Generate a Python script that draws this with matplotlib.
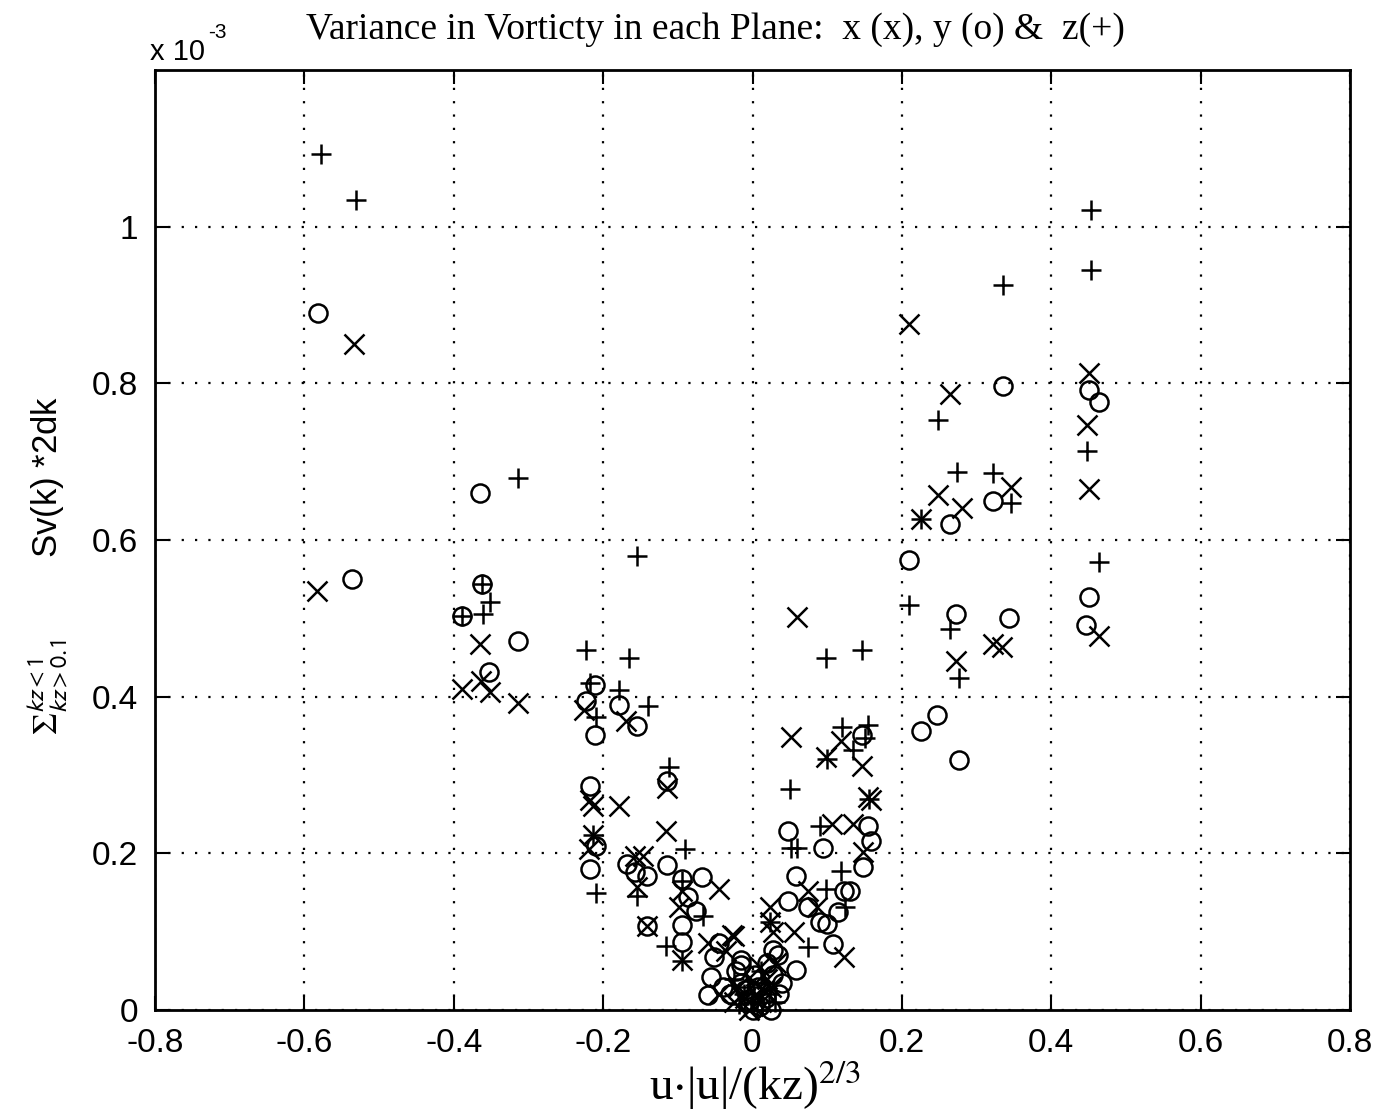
# encoding=utf-8
import matplotlib
matplotlib.use('Agg')
import matplotlib.pyplot as plt

# values (y in units of 1e-3)
x_plane_u = [-0.534, -0.583, -0.365, -0.389, -0.364, -0.352, -0.314, -0.226, -0.170, -0.114,
             -0.217, -0.213, -0.179, -0.116, -0.214, -0.219, -0.157, -0.146, -0.154, -0.141,
             -0.094, -0.094, -0.099, -0.045, -0.027, -0.025, 0.051, 0.118, 0.098, 0.147,
             0.155, 0.158, 0.107, 0.134, 0.148, 0.024, 0.024, 0.074, 0.087, 0.122,
             0.027, 0.055, 0.060, 0.210, 0.265, 0.249, 0.226, 0.280, 0.346, 0.322,
             0.334, 0.273, 0.464, 0.451, 0.448, 0.451,
             -0.020, -0.010, 0.000, 0.005, 0.012, 0.020, -0.005, 0.010, 0.025, -0.025,
             0.003, 0.015, -0.035, 0.032, -0.060, -0.045]
x_plane_v = [0.850, 0.535, 0.467, 0.410, 0.420, 0.406, 0.392, 0.383, 0.369, 0.283,
             0.268, 0.261, 0.261, 0.229, 0.223, 0.206, 0.197, 0.197, 0.157, 0.107,
             0.064, 0.152, 0.132, 0.154, 0.096, 0.094, 0.348, 0.343, 0.323, 0.311,
             0.272, 0.268, 0.238, 0.238, 0.202, 0.132, 0.112, 0.152, 0.132, 0.068,
             0.100, 0.099, 0.502, 0.876, 0.787, 0.658, 0.627, 0.641, 0.668, 0.467,
             0.463, 0.446, 0.478, 0.813, 0.747, 0.665,
             0.030, 0.015, 0.005, 0.020, 0.010, 0.040, 0.000, 0.055, 0.030, 0.010,
             0.035, 0.025, 0.075, 0.060, 0.085, 0.020]

y_plane_u = [-0.582, -0.536, -0.365, -0.362, -0.389, -0.314, -0.353, -0.211, -0.223, -0.211,
             -0.179, -0.155, -0.114, -0.218, -0.210, -0.218, -0.168, -0.157, -0.141, -0.141,
             -0.114, -0.094, -0.087, -0.076, -0.094, -0.094, -0.067, -0.045, -0.052, -0.016,
             -0.056, -0.059, -0.016, 0.048, 0.058, 0.074, 0.091, 0.100, 0.115, 0.122,
             0.131, 0.048, 0.095, 0.155, 0.158, 0.148, 0.147, 0.108, 0.058, 0.027,
             0.034, 0.209, 0.264, 0.322, 0.273, 0.344, 0.226, 0.247, 0.276, 0.336,
             0.451, 0.464, 0.450, 0.447,
             -0.030, -0.015, -0.005, 0.000, 0.008, 0.018, 0.028, 0.020, -0.022, 0.035,
             0.010, -0.010, 0.003, 0.040, -0.040, 0.025]
y_plane_v = [0.890, 0.550, 0.660, 0.544, 0.503, 0.471, 0.432, 0.415, 0.395, 0.351,
             0.390, 0.363, 0.292, 0.286, 0.210, 0.180, 0.186, 0.176, 0.171, 0.107,
             0.185, 0.167, 0.144, 0.126, 0.109, 0.087, 0.170, 0.086, 0.068, 0.064,
             0.042, 0.019, 0.058, 0.139, 0.171, 0.131, 0.112, 0.110, 0.125, 0.152,
             0.152, 0.228, 0.207, 0.235, 0.216, 0.182, 0.351, 0.084, 0.051, 0.077,
             0.070, 0.575, 0.620, 0.650, 0.506, 0.500, 0.356, 0.376, 0.319, 0.797,
             0.791, 0.776, 0.527, 0.491,
             0.020, 0.035, 0.010, 0.000, 0.030, 0.015, 0.045, 0.060, 0.050, 0.020,
             0.005, 0.025, 0.045, 0.035, 0.030, 0.000]

z_plane_u = [-0.578, -0.531, -0.314, -0.154, -0.362, -0.352, -0.389, -0.361, -0.223, -0.166,
             -0.218, -0.179, -0.210, -0.140, -0.112, -0.214, -0.209, -0.154, -0.090, -0.116,
             -0.094, -0.094, -0.066, 0.050, 0.120, 0.155, 0.151, 0.134, 0.100, 0.156,
             0.051, 0.060, 0.091, 0.098, 0.124, 0.118, 0.074, 0.099, 0.147, 0.226,
             0.274, 0.322, 0.346, 0.209, 0.264, 0.277, 0.249, 0.336, 0.453, 0.453,
             0.448, 0.464, 0.024,
             -0.025, -0.012, 0.000, 0.006, 0.015, 0.022, -0.006, 0.012, 0.030, -0.018]
z_plane_v = [1.093, 1.034, 0.679, 0.579, 0.544, 0.521, 0.503, 0.506, 0.460, 0.449,
             0.417, 0.408, 0.374, 0.388, 0.310, 0.223, 0.150, 0.145, 0.206, 0.082,
             0.062, 0.165, 0.120, 0.282, 0.361, 0.364, 0.347, 0.332, 0.320, 0.270,
             0.207, 0.207, 0.235, 0.154, 0.131, 0.177, 0.080, 0.450, 0.459, 0.627,
             0.687, 0.686, 0.647, 0.517, 0.486, 0.424, 0.753, 0.925, 1.021, 0.945,
             0.713, 0.572, 0.112,
             0.040, 0.020, 0.010, 0.000, 0.035, 0.020, 0.030, 0.050, 0.010, 0.008]

xticks = [-0.8, -0.6, -0.4, -0.2, 0, 0.2, 0.4, 0.6, 0.8]
xticklabels = ['-0.8', '-0.6', '-0.4', '-0.2', '0', '0.2', '0.4', '0.6', '0.8']
yticks = [0, 0.2, 0.4, 0.6, 0.8, 1.0]
yticklabels = ['0', '0.2', '0.4', '0.6', '0.8', '1']

plt.rcParams['font.family'] = ['Liberation Sans', 'DejaVu Sans']
plt.rcParams['mathtext.fontset'] = 'stix'

fig = plt.figure(figsize=(13.88, 11.15), dpi=100)
ax = fig.add_axes([155/1388, 1 - 1010/1115, 1195/1388, 940/1115])

mk = dict(linestyle='none', color='black', mfc='none', mew=1.8, clip_on=False)
ax.plot(x_plane_u, x_plane_v, marker='x', ms=14, **mk)
ax.plot(y_plane_u, y_plane_v, marker='o', ms=13, **mk)
ax.plot(z_plane_u, z_plane_v, marker='+', ms=15, **mk)

ax.set_xlim(-0.8, 0.8)
ax.set_ylim(0, 1.2)
ax.set_xticks(xticks)
ax.set_xticklabels(xticklabels, fontsize=24)
ax.set_yticks(yticks)
ax.set_yticklabels(yticklabels, fontsize=24)
ax.tick_params(direction='in', length=10, width=1.5, top=True, right=True)
ax.tick_params(axis='x', pad=13)
ax.tick_params(axis='y', pad=12)
ax.grid(True, color='black', linestyle=(0, (1, 5)), linewidth=1.6)
for s in ax.spines.values():
    s.set_linewidth(2)

fig.text(715/1388, 1 - 30/1115, 'Variance in Vorticty in each Plane:  x (x), y (o) &  z(+)',
         ha='center', va='center', fontsize=27, family='Liberation Serif')
fig.text(150/1388, 1 - 52/1115, 'x 10', ha='left', va='center', fontsize=21)
fig.text(208/1388, 1 - 33/1115, '-3', ha='left', va='center', fontsize=15)
fig.text(755/1388, 1 - 1085/1115, r'u$\cdot$|u|/(kz)$^{2/3}$', ha='center', va='center',
         fontsize=34, family='Liberation Serif')
fig.text(48/1388, 1 - 565/1115,
         r'$\Sigma_{\mathsf{kz > 0.1}}^{\mathsf{kz < 1}}$        Sv(k) *2dk',
         ha='center', va='center', rotation=90, fontsize=25)

plt.savefig('out.png')
